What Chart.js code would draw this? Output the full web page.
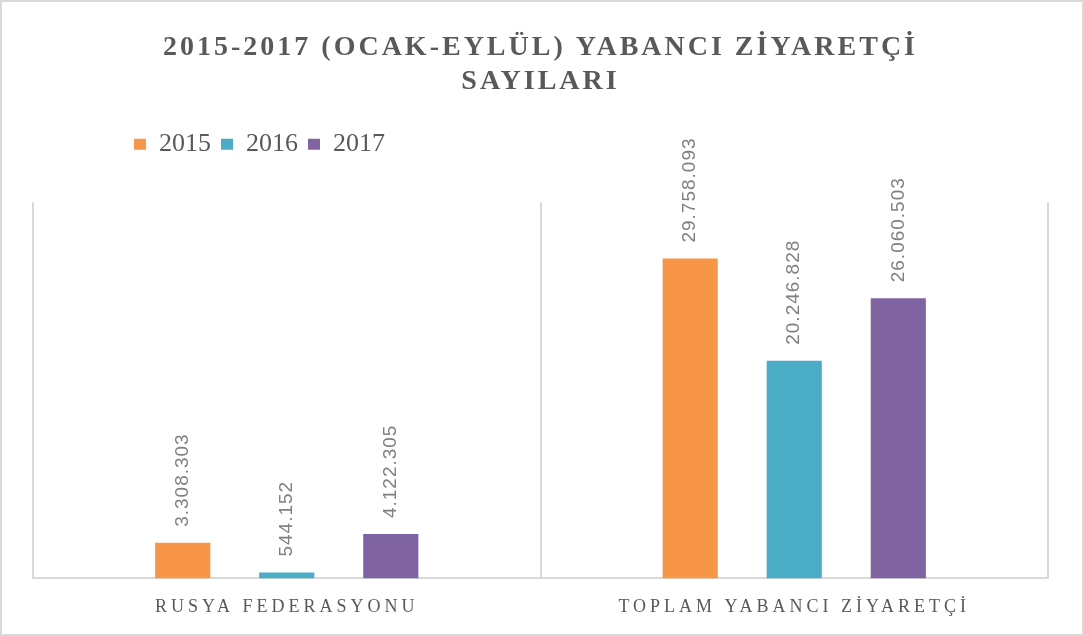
<!DOCTYPE html>
<html>
<head>
<meta charset="utf-8">
<script src="https://cdn.jsdelivr.net/npm/chart.js@4"></script>
<style>
  body { margin: 0; background: #fff; }
  canvas { display: block; }
</style>
</head>
<body>
<canvas id="visitorChart" width="1084" height="636"></canvas>
<script>
// Data
const categories = ['RUSYA FEDERASYONU', 'TOPLAM YABANCI ZİYARETÇİ'];
const years = ['2015', '2016', '2017'];
const values2015 = [3308303, 29758093];
const values2016 = [544152, 20246828];
const values2017 = [4122305, 26060503];
const colors = ['#F79646', '#4BACC6', '#8064A2'];

// 29758093 -> "29.758.093"
function formatNumber(n) {
    return String(n).replace(/\B(?=(\d{3})+(?!\d))/g, '.');
}

// Wrap a draw method so its text gets canvas letter spacing
function withSpacing(obj, name, spacing) {
    if (!obj || obj['_spaced_' + name]) return;
    const orig = obj[name];
    obj[name] = function () {
        const c = this.ctx;
        c.save();
        c.letterSpacing = spacing;
        orig.apply(this, arguments);
        c.restore();
    };
    obj['_spaced_' + name] = true;
}

const spacingPlugin = {
    id: 'spacing',
    beforeLayout(chart) {
        // extra blank room under the legend, like the original
        const legend = chart.legend;
        if (legend && !legend._tallFit) {
            const fit = legend.fit;
            legend.fit = function () {
                fit.apply(this, arguments);
                this.height += 35;
            };
            legend._tallFit = true;
        }
    },
    afterLayout(chart) {
        // legend starts a bit to the right in the original
        chart.legend.left = 124;
    },
    beforeDraw(chart) {
        chart.ctx.letterSpacing = '0px';
        withSpacing(chart.titleBlock, 'draw', '3px');
        withSpacing(chart.scales.x, 'drawLabels', '4px');
    }
};

const valueLabels = {
    id: 'valueLabels',
    afterDatasetsDraw(chart) {
        const ctx = chart.ctx;
        ctx.save();
        ctx.letterSpacing = '1px';
        ctx.font = '19px "Liberation Sans", sans-serif';
        ctx.fillStyle = '#808080';
        ctx.textAlign = 'left';
        ctx.textBaseline = 'middle';
        chart.data.datasets.forEach((ds, i) => {
            chart.getDatasetMeta(i).data.forEach((bar, j) => {
                ctx.save();
                ctx.translate(bar.x, bar.y - 16);
                ctx.rotate(-Math.PI / 2);
                ctx.fillText(formatNumber(ds.data[j]), 0, 0);
                ctx.restore();
            });
        });
        ctx.restore();
    }
};

const frame = {
    id: 'frame',
    afterDraw(chart) {
        const ctx = chart.ctx;
        ctx.save();
        ctx.strokeStyle = '#d9d9d9';
        ctx.lineWidth = 2;
        ctx.strokeRect(1, 1, chart.width - 2, chart.height - 2);
        ctx.restore();
    }
};

const ctx = document.getElementById('visitorChart').getContext('2d');
new Chart(ctx, {
    type: 'bar',
    data: {
        labels: categories,
        datasets: [
            { label: years[0], data: values2015, backgroundColor: colors[0] },
            { label: years[1], data: values2016, backgroundColor: colors[1] },
            { label: years[2], data: values2017, backgroundColor: colors[2] }
        ]
    },
    options: {
        responsive: false,
        animation: false,
        layout: { padding: { left: 33, right: 36, bottom: 0 } },
        datasets: {
            bar: { categoryPercentage: 0.615, barPercentage: 0.53 }
        },
        plugins: {
            title: {
                display: true,
                text: ['2015-2017 (OCAK-EYLÜL) YABANCI ZİYARETÇİ', 'SAYILARI'],
                color: '#595959',
                font: { family: '"Liberation Serif", serif', size: 28, weight: 'bold', lineHeight: 1.2 },
                padding: { top: 31, bottom: 23 }
            },
            legend: {
                position: 'top',
                align: 'start',
                labels: {
                    color: '#595959',
                    font: { family: '"Liberation Serif", serif', size: 26 },
                    boxWidth: 12,
                    boxHeight: 11,
                    padding: 10
                }
            },
            tooltip: { enabled: false }
        },
        scales: {
            x: {
                grid: { offset: true, color: '#d9d9d9', lineWidth: 2, drawTicks: false },
                border: { color: '#d9d9d9', width: 2 },
                ticks: {
                    color: '#595959',
                    font: { family: '"Liberation Serif", serif', size: 18 },
                    padding: 18
                }
            },
            y: {
                display: false,
                min: 0,
                max: 35000000
            }
        }
    },
    plugins: [spacingPlugin, valueLabels, frame]
});
</script>
</body>
</html>
